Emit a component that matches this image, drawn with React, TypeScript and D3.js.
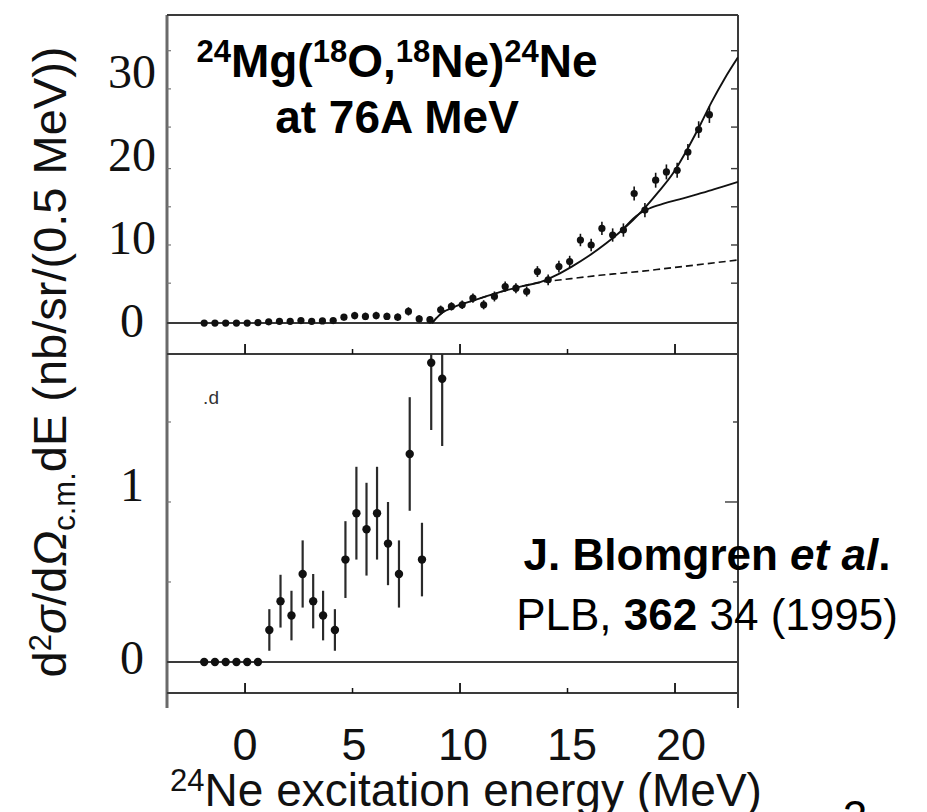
import React from 'react';
import * as d3 from 'd3';

// ---------- data ----------
// top panel: spectrum points (MeV, nb/sr/0.5MeV)
const topX = [-1.9, -1.4, -0.9, -0.4, 0.1, 0.6, 1.1, 1.6, 2.1, 2.6, 3.1, 3.6, 4.1, 4.6, 5.1, 5.6, 6.1, 6.6, 7.1, 7.6, 8.1, 8.6,
  9.1, 9.6, 10.1, 10.6, 11.1, 11.6, 12.1, 12.6, 13.1, 13.6, 14.1, 14.6, 15.1, 15.6, 16.1, 16.6, 17.1, 17.6, 18.1, 18.6, 19.1, 19.6, 20.1, 20.6, 21.1, 21.6];
const topY = [0, 0, 0, 0, 0, 0.05, 0.15, 0.2, 0.2, 0.3, 0.2, 0.25, 0.3, 0.7, 0.9, 0.8, 0.9, 0.8, 0.7, 1.4, 0.5, 0.4,
  1.6, 2.0, 2.2, 3.0, 2.2, 3.2, 4.4, 4.2, 3.8, 6.2, 5.2, 6.8, 7.4, 10.0, 9.4, 11.4, 10.6, 11.2, 15.6, 13.6, 17.2, 18.2, 18.4, 20.6, 23.3, 25.1];
const topErr = [0.1, 0.1, 0.1, 0.1, 0.1, 0.15, 0.2, 0.2, 0.2, 0.25, 0.25, 0.25, 0.25, 0.4, 0.45, 0.45, 0.45, 0.45, 0.45, 0.5, 0.45, 0.45,
  0.5, 0.5, 0.5, 0.55, 0.55, 0.6, 0.6, 0.6, 0.6, 0.65, 0.65, 0.7, 0.7, 0.75, 0.75, 0.8, 0.8, 0.8, 0.85, 0.85, 0.9, 0.9, 0.9, 0.95, 1.0, 1.0];

// top panel: fitted curves
const totalX = [8.7, 8.9, 9.2, 9.6, 10.1, 10.6, 11.2, 12.1, 13.0, 13.7, 14.5, 15.2, 16.0, 16.8, 17.55, 18.5, 19.2, 19.9, 20.65, 21.2, 21.7, 22.3, 22.93];
const totalY = [0, 0.6, 1.3, 1.8, 2.3, 2.7, 3.2, 3.9, 4.5, 4.9, 5.8, 6.8, 8.1, 9.6, 11.2, 13.6, 15.7, 18.0, 21.3, 24.0, 26.6, 29.4, 32.0];
const midX = [17.55, 18.2, 18.8, 19.5, 20.2, 20.9, 21.7, 22.3, 22.93];
const midY = [11.2, 12.9, 13.8, 14.4, 14.9, 15.4, 16.0, 16.5, 17.0];
const dashX = [8.7, 8.9, 9.2, 9.6, 10.1, 10.6, 11.2, 12.1, 13.0, 13.7, 14.5, 15.5, 16.5, 17.5, 18.5, 19.5, 20.5, 21.5, 22.93];
const dashY = [0, 0.6, 1.3, 1.8, 2.3, 2.7, 3.2, 3.9, 4.5, 4.9, 5.15, 5.45, 5.75, 6.0, 6.25, 6.55, 6.85, 7.15, 7.6];

// bottom panel: points with errors
const botX = [-1.9, -1.4, -0.9, -0.4, 0.1, 0.6, 1.13, 1.65, 2.16, 2.68, 3.17, 3.63, 4.18, 4.67, 5.18, 5.65, 6.14, 6.65, 7.16, 7.66, 8.23, 8.66, 9.17];
const botY = [0, 0, 0, 0, 0, 0, 0.2, 0.38, 0.29, 0.55, 0.38, 0.29, 0.2, 0.64, 0.93, 0.83, 0.93, 0.74, 0.55, 1.3, 0.64, 1.87, 1.77];
const botErr = [0, 0, 0, 0, 0, 0, 0.13, 0.165, 0.155, 0.21, 0.17, 0.155, 0.13, 0.24, 0.29, 0.29, 0.29, 0.26, 0.21, 0.355, 0.23, 0.42, 0.42];

// axes
const xTickValues = [0, 5, 10, 15, 20];
const xTickLabels = ['0', '5', '10', '15', '20'];
const xMajor = [0, 10, 20];
const xMinor = [5, 15];
const topYLabelValues = [0, 10, 20, 30];
const topYLabels = ['0', '10', '20', '30'];
const botYLabelValues = [0, 1];
const botYLabels = ['0', '1'];
const topSideTicks = [4.8, 9.4, 14.0, 18.6, 23.6, 28.2, 32.8];
const botSideTicks = [0.5, 1.0, 1.5];

const SANS = '"Liberation Sans", Arial, Helvetica, sans-serif';
const SERIF = '"Liberation Serif", "Times New Roman", serif';

export default function App() {
  const W = 927, H = 812;
  const L = 167, R = 738, T = 15, MID = 354, B = 693, EXT = 708;

  const x = d3.scaleLinear().domain([-3.63, 22.93]).range([L, R]);
  const yTop = d3.scaleLinear().domain([-3.73, 37.1]).range([MID, T]);
  const yBot = d3.scaleLinear().domain([-0.194, 1.925]).range([B, MID]);
  // presenter-placed tick labels (slightly offset from the original ticks)
  const xLabelPos = d3.scaleLinear().domain([0, 20]).range([x(0), x(20) + 6]);
  const botLabelPos = d3.scaleLinear().domain([0, 1]).range([yBot(0) - 4, yBot(1) - 17]);

  const lineTop = d3.line<[number, number]>().x(d => x(d[0])).y(d => yTop(d[1])).curve(d3.curveMonotoneX);
  const total = lineTop(totalX.map((v, i) => [v, totalY[i]] as [number, number])) || '';
  const mid = lineTop(midX.map((v, i) => [v, midY[i]] as [number, number])) || '';
  const dash = lineTop(dashX.map((v, i) => [v, dashY[i]] as [number, number])) || '';

  const ink = '#111';
  const frame = '#3a3a3a';

  return (
    <svg width={W} height={H} style={{ position: 'absolute', left: 0, top: 0, background: '#fff' }}>
      <defs>
        <clipPath id="clipTop"><rect x={L} y={T} width={R - L} height={MID - T} /></clipPath>
        <clipPath id="clipBot"><rect x={L} y={MID} width={R - L} height={B - MID} /></clipPath>
      </defs>
      <rect x={0} y={0} width={W} height={H} fill="#fff" />

      {/* frame */}
      <line x1={L} x2={L} y1={T} y2={EXT} stroke="#6a6a6a" strokeWidth={3} />
      <line x1={R} x2={R} y1={T} y2={EXT} stroke={frame} strokeWidth={2} />
      <line x1={L} x2={R} y1={T} y2={T} stroke={frame} strokeWidth={2} />
      <line x1={L} x2={R} y1={MID} y2={MID} stroke={frame} strokeWidth={2} />
      <line x1={L} x2={R} y1={B} y2={B} stroke={frame} strokeWidth={2} />
      {/* zero lines */}
      <line x1={L} x2={R} y1={yTop(0)} y2={yTop(0)} stroke={frame} strokeWidth={2} />
      <line x1={L} x2={R} y1={yBot(0)} y2={yBot(0)} stroke={frame} strokeWidth={2} />

      {/* x ticks on both panels */}
      {[MID, B].map((yy, k) => (
        <g key={'xt' + k}>
          {xMajor.map(v => <line key={'M' + v} x1={x(v)} x2={x(v)} y1={yy} y2={yy - 10} stroke={ink} strokeWidth={1.8} />)}
          {xMinor.map(v => <line key={'m' + v} x1={x(v)} x2={x(v)} y1={yy} y2={yy - 5} stroke={ink} strokeWidth={1.5} />)}
        </g>
      ))}
      {/* side ticks */}
      {topSideTicks.map(v => (
        <g key={'ts' + v}>
          <line x1={R} x2={R - 7} y1={yTop(v)} y2={yTop(v)} stroke={frame} strokeWidth={1.4} />
          <line x1={L} x2={L + 4} y1={yTop(v)} y2={yTop(v)} stroke="#777" strokeWidth={1.2} />
        </g>
      ))}
      {botSideTicks.map(v => (
        <g key={'bs' + v}>
          <line x1={R} x2={R - (v === 1 ? 13 : 5)} y1={yBot(v)} y2={yBot(v)} stroke={frame} strokeWidth={1.4} />
          <line x1={L} x2={L + 4} y1={yBot(v)} y2={yBot(v)} stroke="#777" strokeWidth={1.2} />
        </g>
      ))}

      {/* top panel curves and data */}
      <g clipPath="url(#clipTop)">
        <path d={dash} fill="none" stroke={ink} strokeWidth={1.6} strokeDasharray="7 4" />
        <path d={mid} fill="none" stroke={ink} strokeWidth={1.8} />
        <path d={total} fill="none" stroke={ink} strokeWidth={1.9} />
        {topX.map((v, i) => (
          <g key={'tp' + i}>
            <line x1={x(v)} x2={x(v)} y1={yTop(topY[i] - topErr[i])} y2={yTop(topY[i] + topErr[i])} stroke={ink} strokeWidth={1.6} />
            <line x1={x(v) - 3} x2={x(v) + 3} y1={yTop(topY[i])} y2={yTop(topY[i])} stroke={ink} strokeWidth={1.4} />
            <circle cx={x(v)} cy={yTop(topY[i])} r={3.6} fill={ink} />
          </g>
        ))}
      </g>

      {/* bottom panel data */}
      <g clipPath="url(#clipBot)">
        {botX.map((v, i) => (
          <g key={'bp' + i}>
            {botErr[i] > 0 && (
              <line x1={x(v)} x2={x(v)} y1={yBot(botY[i] - botErr[i])} y2={yBot(botY[i] + botErr[i])} stroke="#2a2a2a" strokeWidth={2.2} />
            )}
            <circle cx={x(v)} cy={yBot(botY[i])} r={4.2} fill={ink} />
          </g>
        ))}
      </g>
      <text x={x(-1.95)} y={yBot(1.61)} fontFamily={SANS} fontSize={19} fill="#333">.d</text>

      {/* y tick labels */}
      {topYLabelValues.map((v, i) => (
        <text key={'tyl' + v} x={132} y={yTop(v) + 14} textAnchor="middle" fontFamily={SERIF} fontSize={48} fill={ink}>{topYLabels[i]}</text>
      ))}
      {botYLabelValues.map((v, i) => (
        <text key={'byl' + v} x={132} y={botLabelPos(v) + 16} textAnchor="middle" fontFamily={SERIF} fontSize={48} fill={ink}>{botYLabels[i]}</text>
      ))}

      {/* x tick labels */}
      {xTickValues.map((v, i) => (
        <text key={'xl' + v} x={xLabelPos(v)} y={760} textAnchor="middle" fontFamily={SANS} fontSize={45} fill={ink}>{xTickLabels[i]}</text>
      ))}

      {/* x axis title */}
      <text x={466} y={806} textAnchor="middle" fontFamily={SANS} fontSize={46} fill={ink}>
        <tspan fontSize={31} dy={-15}>24</tspan><tspan dy={15}>Ne excitation energy (MeV)</tspan>
      </text>

      {/* y axis title */}
      <text transform="translate(66,362) rotate(-90)" textAnchor="middle" fontFamily={SANS} fontSize={47} fill={ink}>
        <tspan>d</tspan><tspan fontSize={31} dy={-15}>2</tspan><tspan dy={15} fontStyle="italic">σ</tspan><tspan>/d</tspan><tspan fontStyle="italic">Ω</tspan><tspan fontSize={31} dy={9}>c.m.</tspan><tspan dy={-9}>dE (nb/sr/(0.5 MeV))</tspan>
      </text>

      {/* reaction title */}
      <text x={397} y={77} textAnchor="middle" fontFamily={SANS} fontWeight="bold" fontSize={46} fill="#000">
        <tspan fontSize={31} dy={-15}>24</tspan><tspan dy={15}>Mg(</tspan><tspan fontSize={31} dy={-15}>18</tspan><tspan dy={15}>O,</tspan><tspan fontSize={31} dy={-15}>18</tspan><tspan dy={15}>Ne)</tspan><tspan fontSize={31} dy={-15}>24</tspan><tspan dy={15}>Ne</tspan>
      </text>
      <text x={397} y={133} textAnchor="middle" fontFamily={SANS} fontWeight="bold" fontSize={46} fill="#000">at 76A MeV</text>

      {/* citation */}
      <text x={707} y={570} textAnchor="middle" fontFamily={SANS} fontWeight="bold" fontSize={44} fill="#000">
        J. Blomgren <tspan fontStyle="italic">et al</tspan>.
      </text>
      <text x={707} y={630} textAnchor="middle" fontFamily={SANS} fontSize={44} fill="#000">
        PLB, <tspan fontWeight="bold">362</tspan> 34 (1995)
      </text>

      {/* slide number, cut off at the bottom */}
      <text x={855} y={832} textAnchor="middle" fontFamily={SANS} fontSize={44} fill="#000">2</text>
    </svg>
  );
}
